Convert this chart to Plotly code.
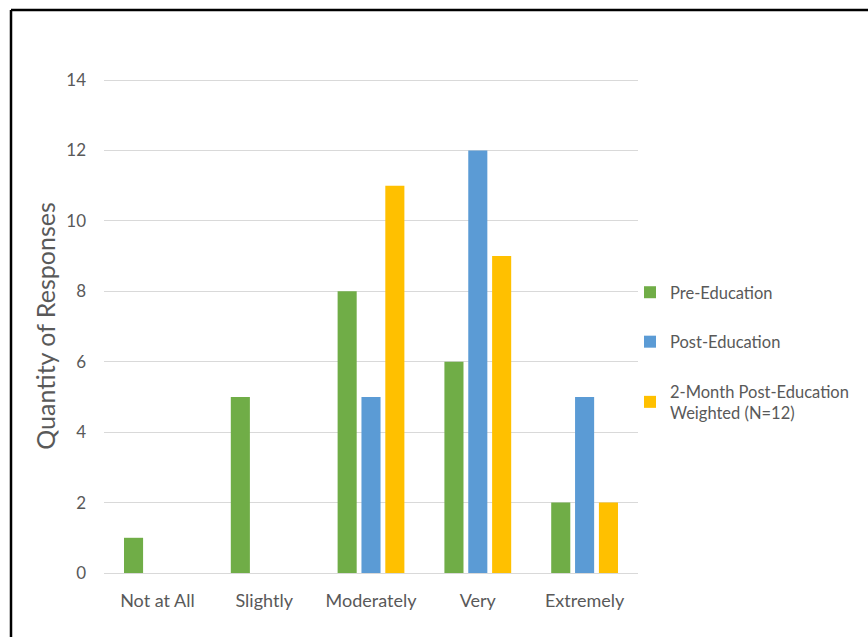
import plotly.graph_objects as go

categories = ["Not at All", "Slightly", "Moderately", "Very", "Extremely"]
pre_education = [1, 5, 8, 6, 2]
post_education = [None, None, 5, 12, 5]
two_month_weighted = [None, None, 11, 9, 2]
series_names = ["Pre-Education", "Post-Education", "2-Month Post-Education<br>Weighted (N=12)"]
series_colors = ["#70AD47", "#5B9BD5", "#FFC000"]
y_ticks = [0, 2, 4, 6, 8, 10, 12, 14]

FONT = "Lato, 'Open Sans', sans-serif"
GREY = "#595959"

fig = go.Figure()
for i, (name, vals, col) in enumerate(zip(series_names,
                                           [pre_education, post_education, two_month_weighted],
                                           series_colors)):
    fig.add_trace(go.Bar(x=categories, y=vals, name=name, marker_color=col,
                         marker_line_width=0, legendgroup=f"g{i}"))

W, H = 868, 637
L, R, T, B = 104, 230, 79, 64
pw, ph = W - L - R, H - T - B

def px_x(p):
    return (p - L) / pw

def px_y(p):
    return 1 - (p - T) / ph

fig.update_layout(
    width=W, height=H,
    margin=dict(l=L, r=R, t=T, b=B),
    paper_bgcolor="white", plot_bgcolor="white",
    barmode="group", bargap=0.33, bargroupgap=0.2,
    font=dict(family=FONT, color=GREY, size=16),
    legend=dict(x=px_x(630), y=px_y(275), xanchor="left", yanchor="top",
                font=dict(size=16.5, color=GREY), tracegroupgap=25,
                itemwidth=30, bgcolor="rgba(0,0,0,0)"),
    showlegend=True,
    xaxis=dict(showgrid=False, showline=False, ticks="", ticklabelstandoff=15,
               tickfont=dict(size=18, color=GREY)),
    yaxis=dict(range=[0, 14.03], tickvals=y_ticks, showgrid=True, gridcolor="#D9D9D9",
               gridwidth=1, zeroline=True, zerolinecolor="#D9D9D9", zerolinewidth=1,
               tickfont=dict(size=17, color=GREY), ticklabelstandoff=17,
               title=dict(text="Quantity of Responses", font=dict(size=25, color=GREY),
                          standoff=3)),
    shapes=[
        dict(type="line", xref="paper", yref="paper", x0=px_x(11), x1=px_x(W + 5),
             y0=px_y(10), y1=px_y(10), line=dict(color="black", width=2.5)),
        dict(type="line", xref="paper", yref="paper", x0=px_x(11), x1=px_x(11),
             y0=px_y(10), y1=px_y(H + 5), line=dict(color="black", width=2.5)),
    ],
)

fig.write_html("out.html")
